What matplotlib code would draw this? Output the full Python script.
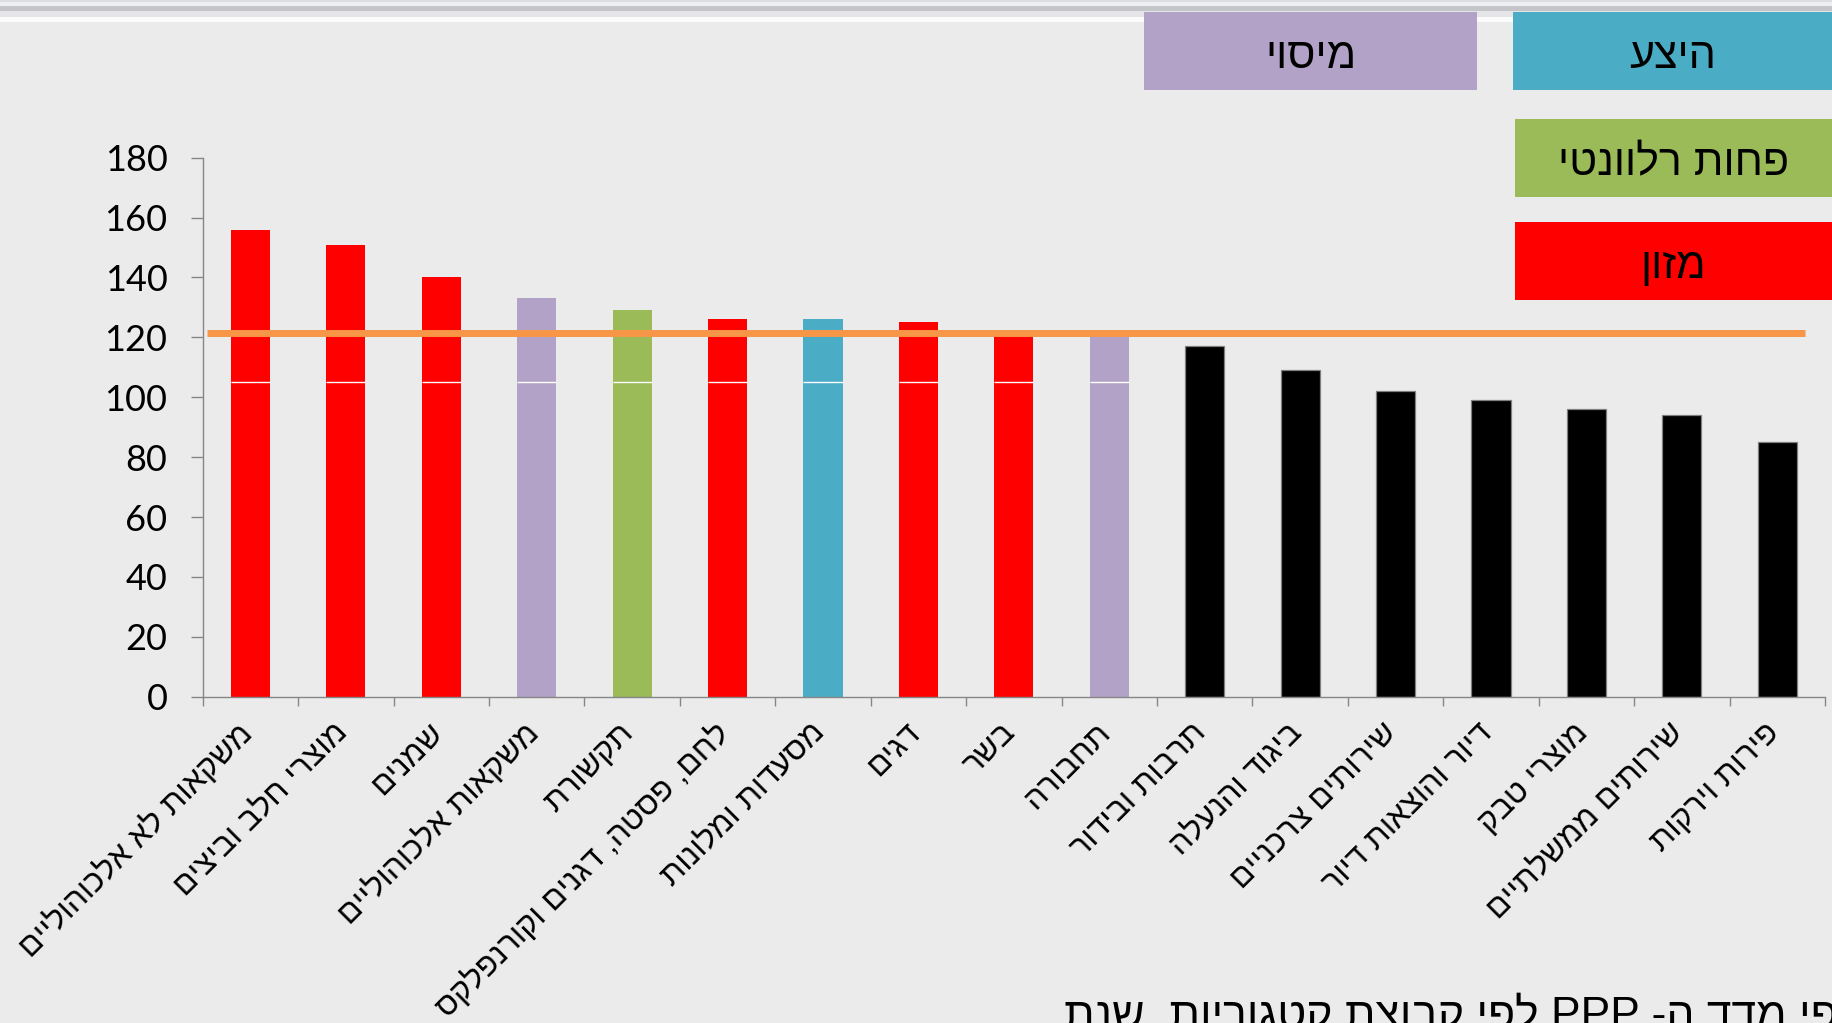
import numpy as np
import matplotlib.pyplot as plt
from matplotlib.patches import Rectangle

# categories, left to right as in the chart (logical Hebrew order)
categories = [
    "משקאות לא אלכוהוליים", "מוצרי חלב וביצים", "שמנים", "משקאות אלכוהוליים",
    "תקשורת", "לחם, פסטה, דגנים וקורנפלקס", "מסעדות ומלונות", "דגים", "בשר",
    "תחבורה", "תרבות ובידור", "ביגוד והנעלה", "שירותים צרכניים",
    "דיור והוצאות דיור", "מוצרי טבק", "שירותים ממשלתיים", "פירות וירקות",
]
values = [156, 151, 140, 133, 129, 126, 126, 125, 122, 121, 117, 109, 102, 99, 96, 94, 85]
groups = ["מזון", "מזון", "מזון", "מיסוי", "פחות רלוונטי", "מזון", "היצע", "מזון", "מזון",
          "מיסוי", "", "", "", "", "", "", ""]
avg_level = 121.3
split_level = 105   # thin white seam seen across the coloured bars
bottom_text = "פי מדד ה- PPP לפי קבוצת קטגוריות, שנת"

legend_labels = ["מיסוי", "היצע", "פחות רלוונטי", "מזון"]

group_colors = {"מזון": "#ff0000", "מיסוי": "#b3a2c7", "היצע": "#4bacc6",
                "פחות רלוונטי": "#9bbb59", "": "#000000"}
# legend box extents in pixels (x0, y0, x1, y1), y measured from the top
legend_boxes = [(1144, 12, 1477, 90), (1513, 12, 1840, 90),
                (1515, 119, 1840, 197), (1515, 222, 1840, 300)]

HEB = ["Liberation Sans", "DejaVu Sans"]
W, H = 1832, 1023
BG = "#ebebeb"
GRID_GRAY = "#868686"


def rtl(s):
    # matplotlib has no bidi support: lay Hebrew out visually
    return s[::-1]


def fig_rect(x0, y0, x1, y1, color, z=1):
    return Rectangle((x0 / W, 1 - y1 / H), (x1 - x0) / W, (y1 - y0) / H,
                     transform=fig.transFigure, facecolor=color, edgecolor="none",
                     zorder=z)


fig = plt.figure(figsize=(W / 100, H / 100), dpi=100, facecolor=BG)

# slide border strip at the top
for y0, y1, c in [(0, 2, "#dcdde0"), (2, 6, "#eeeff1"), (6, 11, "#c4c5c8"),
                  (11, 17, "#e6e6e8"), (17, 22, "#fbfbfb")]:
    fig.add_artist(fig_rect(0, y0, W, y1, c, z=0))

ax = fig.add_axes([202.7 / W, 1 - 696.7 / H, (1825 - 202.7) / W, (696.7 - 157.7) / H])
ax.set_facecolor(BG)

x = np.arange(len(categories))
colors = [group_colors[g] for g in groups]
edges = ["#7f7f7f" if g == "" else "none" for g in groups]
ax.bar(x, values, width=0.41, color=colors, edgecolor=edges, linewidth=0.9, zorder=2)

coloured = [i for i, g in enumerate(groups) if g != ""]
ax.hlines([split_level] * len(coloured), x[coloured] - 0.205, x[coloured] + 0.205,
          color="white", lw=1.0, zorder=3)

ax.hlines(avg_level, -0.46, 16.29, color="#f79646", lw=5.0, zorder=4)

ax.set_xlim(-0.5, len(categories) - 0.5)
ax.set_ylim(0, 180)
ax.set_yticks(range(0, 181, 20))
# label anchors sit a little left of the bar centres, as in the slide
ax.set_xticks(x - 0.14)
ax.set_xticks(np.arange(-0.5, len(categories)), minor=True)
ax.set_xticklabels([rtl(c) for c in categories], rotation=45, ha="right", va="top",
                   rotation_mode="anchor", fontsize=23, family=HEB)
ax.tick_params(axis="x", which="major", length=0, pad=15)
ax.tick_params(axis="x", which="minor", length=6.5, width=1, color=GRID_GRAY, direction="out")
ax.tick_params(axis="y", length=8.4, width=1, color=GRID_GRAY, pad=17, labelsize=26)
for lbl in ax.get_yticklabels():
    lbl.set_family("Lato")

for side in ["top", "right"]:
    ax.spines[side].set_visible(False)
for side in ["left", "bottom"]:
    ax.spines[side].set_color(GRID_GRAY)
    ax.spines[side].set_linewidth(1.0)

# category key boxes
for label, (x0, y0, x1, y1) in zip(legend_labels, legend_boxes):
    fig.add_artist(fig_rect(x0, y0, x1, y1, group_colors[label], z=5))
    cx = (x0 + min(x1, W)) / 2
    fig.text(cx / W, 1 - ((y0 + y1) / 2 + 6) / H, rtl(label), ha="center", va="center",
             fontsize=31, family=HEB, zorder=6)

# title cut off by the slide edge, as in the original slide
fig.text(1838 / W, 1 - 1028 / H, rtl(bottom_text), ha="right", va="baseline",
         fontsize=32, family=HEB)

plt.savefig("out.png", dpi=100, facecolor=BG)
